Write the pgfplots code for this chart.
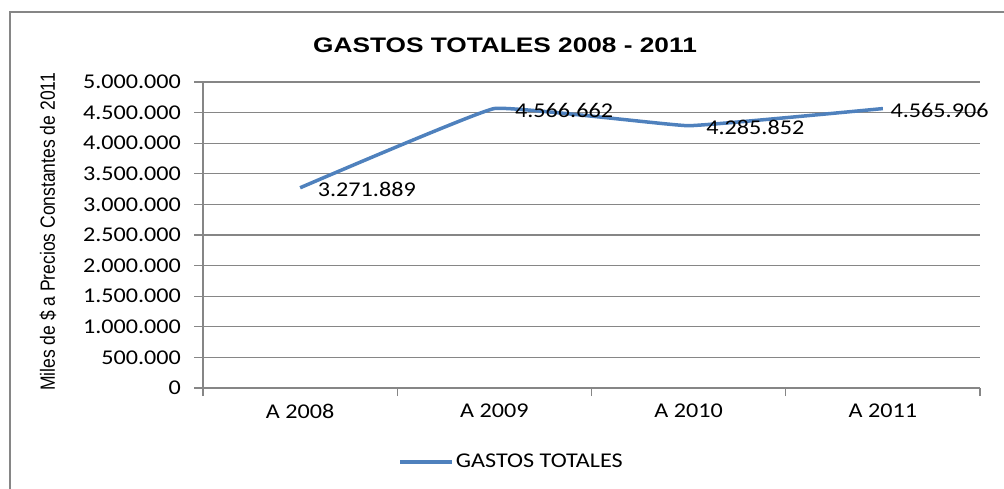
\documentclass[border=0pt]{standalone}
\usepackage{fontspec}
\setmainfont{Carlito}[FakeStretch=1.15]
\newfontfamily\titlefont{Liberation Sans}[FakeStretch=1.25]
\newfontfamily\ylabfont{Liberation Sans}[FakeStretch=0.85]
\usepackage{pgfplots}
\usepackage{pgfplotstable}
\pgfplotsset{compat=1.18}
\definecolor{serie}{HTML}{4F81BD}
\definecolor{gridc}{HTML}{868686}

\pgfplotstableread{
x y lab dx
0 3271889 3.271.889 7
1 4566662 4.566.662 8.5
2 4285852 4.285.852 7
3 4565906 4.565.906 2
}\gastos

\begin{document}
\begin{tikzpicture}
\useasboundingbox (0pt,0pt) rectangle (502pt,244pt);
\draw[gridc, line width=1pt] (4.75pt,-2pt) -- (4.75pt,238pt) -- (504pt,238pt);
\node[font=\titlefont\bfseries\fontsize{10.5}{12}\selectfont] at (252.5pt,221.5pt) {GASTOS TOTALES 2008 - 2011};
\node[rotate=90, font=\ylabfont\fontsize{10.3}{12}\selectfont] at (24pt,128pt) {Miles de \$ a Precios Constantes de 2011};
\begin{axis}[
  at={(101.5pt,50pt)}, anchor=south west,
  scale only axis, width=388.5pt, height=153pt,
  xmin=-0.5, xmax=3.5, ymin=0, ymax=5000000,
  xtick={0,1,2,3}, xticklabels={A 2008, A 2009, A 2010, A 2011},
  minor xtick={-0.5,0.5,1.5,2.5,3.5},
  major x tick style={draw=none},
  minor tick length=4pt,
  major tick length=4.5pt,
  ytick={0,500000,1000000,1500000,2000000,2500000,3000000,3500000,4000000,4500000,5000000},
  tick align=outside,
  ymajorgrids, grid style={gridc, line width=0.6pt},
  axis x line*=bottom, axis y line*=left,
  axis line style={gridc, line width=0.6pt, -},
  tick style={gridc, line width=0.6pt},
  scaled y ticks=false,
  yticklabel style={xshift=-3pt, /pgf/number format/.cd, fixed, precision=0, 1000 sep={.}, assume math mode=true},
  ticklabel style={font=\fontsize{10.5}{12}\selectfont, text=black},
  legend style={at={(axis description cs:0.251,-0.242)}, anchor=west, draw=none, fill=none,
    font=\fontsize{10.5}{12}\selectfont, inner sep=0pt, nodes={inner sep=1pt}},
  legend image code/.code={\draw[#1] (0pt,0pt) -- (26pt,0pt);},
  clip=false,
]
\addplot[serie, line width=1.75pt, smooth, tension=0.15,
  nodes near coords={\pgfplotspointmeta},
  point meta=explicit symbolic,
  visualization depends on={\thisrow{dx} \as \dx},
  every node near coord/.append style={anchor=west, xshift=\dx pt, yshift=-1pt,
     font=\fontsize{10.5}{12}\selectfont, text=black, inner sep=1pt},
] table[x=x, y=y, meta=lab] {\gastos};
\addlegendentry{GASTOS TOTALES}
\end{axis}
\end{tikzpicture}
\end{document}
